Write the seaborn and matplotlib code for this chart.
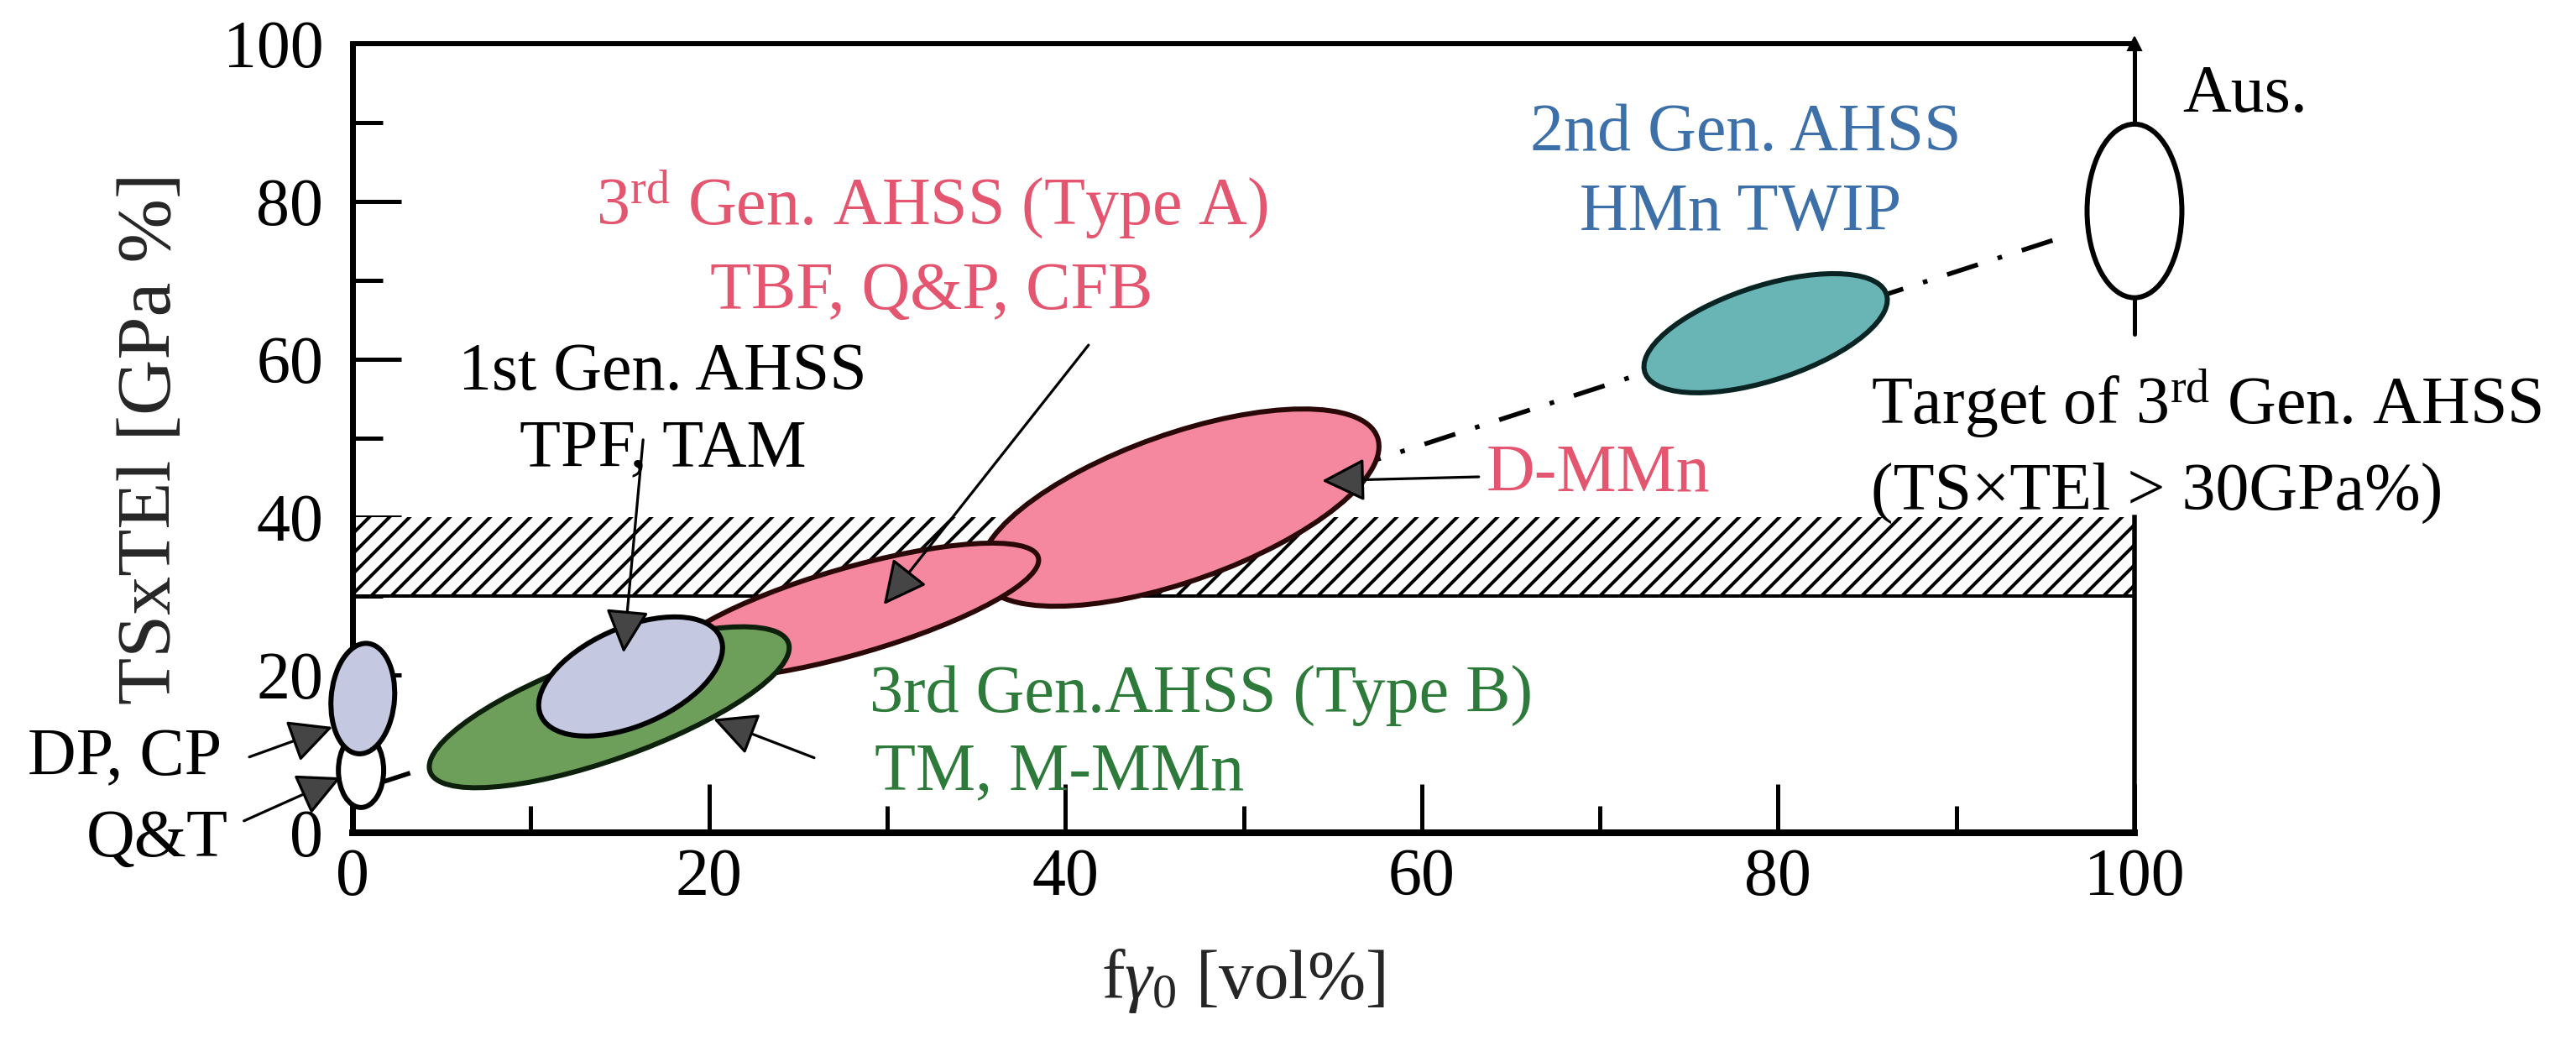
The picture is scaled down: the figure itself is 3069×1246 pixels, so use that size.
import numpy as np
import matplotlib
matplotlib.use("Agg")
import matplotlib.pyplot as plt
from matplotlib.patches import Ellipse
import seaborn as sns

# ---------------- data ----------------
x_ticks = [0, 20, 40, 60, 80, 100]
y_ticks = [0, 20, 40, 60, 80, 100]
x_minor = [10, 30, 50, 70, 90]
y_minor = [10, 30, 50, 70, 90]

# target band (TS x TEl between 30 and 40 GPa%)
band_x = [0, 100]
band_low = 30
band_high = 40

# trend (dash-dot) line end points
trend_x = [1.5, 96.0]
trend_y = [6.3, 75.5]

# steel regions: centre x, centre y, half-extent x, half-extent y, tilt correlation
regions = ["Q&T", "DP, CP", "D-MMn", "Type A", "Type B", "1st Gen", "TWIP", "Aus"]
reg_cx = [0.47, 0.57, 46.4, 28.0, 14.4, 15.6, 79.3, 100.0]
reg_cy = [7.9, 17.0, 41.2, 28.1, 15.9, 19.8, 63.3, 78.8]
reg_hx = [1.27, 1.79, 11.2, 10.5, 10.1, 5.16, 6.83, 2.66]
reg_hy = [4.7, 7.0, 12.5, 8.6, 10.2, 7.55, 7.55, 11.0]
reg_rho = [0.0, 0.1, 0.62, 0.75, 0.74, 0.48, 0.56, 0.0]
reg_face = ["white", "#c4c8e0", "#f5889f", "#f5889f", "#6e9f5a", "#c4c8e0", "#69b4b4", "white"]
reg_edge = ["black", "black", "#2a0808", "#2a0808", "#0c200c", "black", "#0a2424", "black"]

# austenite whisker
aus_whisker = [63.2, 100.0]

# annotation texts
ann_text = ["Aus.", "2nd Gen. AHSS", "HMn TWIP",
            r"3$^{\rm rd}$ Gen. AHSS (Type A)", "TBF, Q&P, CFB",
            "1st Gen. AHSS", "TPF, TAM", "D-MMn",
            r"Target of 3$^{\rm rd}$ Gen. AHSS", "(TS×TEl > 30GPa%)",
            "3rd Gen.AHSS (Type B)", "TM, M-MMn", "DP, CP", "Q&T"]
ann_x = [102.7, 78.2, 77.9, 32.5, 32.5, 17.4, 17.4, 63.6, 85.2, 85.2, 29.0, 29.3, -7.35, -7.0]
ann_y = [93.4, 88.6, 78.5, 79.5, 68.5, 58.2, 48.5, 45.4, 54.3, 43.0, 17.3, 7.55, 9.4, -0.85]
ann_ha = ["left", "center", "center", "center", "center", "center", "center", "left",
          "left", "left", "left", "left", "right", "right"]
ann_color = ["black", "#3d6fa8", "#3d6fa8", "#e4566f", "#e4566f", "black", "black", "#e4566f",
             "black", "black", "#2d7a3a", "#2d7a3a", "black", "black"]

# arrows: tail -> tip
arr_tail_x = [-5.8, -6.1, 16.3, 41.3, 25.9, 63.2]
arr_tail_y = [9.6, 1.5, 49.8, 61.8, 9.5, 45.1]
arr_tip_x = [-1.13, -0.66, 15.2, 29.8, 20.25, 54.4]
arr_tip_y = [13.4, 7.0, 22.8, 28.9, 14.4, 44.6]

x_label = r"f$\gamma_0$ [vol%]"
y_label = "TSxTEl [GPa %]"

# ---------------- style ----------------
DPI = 144
W_PX, H_PX = 3069, 1246


def pt(px):
    """pixel size -> points at the output dpi"""
    return px * 72.0 / DPI


sns.set_theme(style="white")
plt.rcParams["font.family"] = ["Liberation Serif", "DejaVu Serif"]
plt.rcParams["mathtext.fontset"] = "custom"
plt.rcParams["mathtext.rm"] = "Liberation Serif"
plt.rcParams["mathtext.it"] = "Liberation Serif:italic"
plt.rcParams["mathtext.fallback"] = "stix"
plt.rcParams["hatch.linewidth"] = pt(4.0)

FS = pt(80)

fig = plt.figure(figsize=(W_PX / DPI, H_PX / DPI), dpi=DPI)
ax = fig.add_axes([0.1369, 0.2039, 0.6917, 0.7544])
ax.set_xlim(0, 100)
ax.set_ylim(0, 100)

# spines
for s in ["left", "bottom", "top", "right"]:
    ax.spines[s].set_visible(True)
    ax.spines[s].set_color("black")
    ax.spines[s].set_linewidth(pt(7))
ax.spines["bottom"].set_linewidth(pt(8))
ax.spines["top"].set_linewidth(pt(6))
ax.spines["right"].set_bounds(0, band_high)
ax.spines["right"].set_linewidth(pt(5.5))

# hatched target band
ax.fill_between(band_x, band_low, band_high, facecolor="white", edgecolor="black",
                hatch="//", linewidth=0, zorder=1)
ax.plot(band_x, [band_low, band_low], color="black", lw=pt(4), zorder=1.2)

# trend line
sns.lineplot(x=trend_x, y=trend_y, ax=ax, color="black", lw=pt(5.5),
             linestyle=(0, (7, 4.5, 1, 4.5)), zorder=1.5)

# austenite whisker
ax.plot([100, 100], aus_whisker, color="black", lw=pt(5), zorder=2.9, clip_on=False)
ax.plot([100], [aus_whisker[1]], marker="^", ms=pt(16), color="black", zorder=2.9,
        clip_on=False)

# ellipses
for i in range(len(regions)):
    hx, hy, r = reg_hx[i], reg_hy[i], reg_rho[i]
    cov = np.array([[hx * hx, r * hx * hy], [r * hx * hy, hy * hy]])
    vals, vecs = np.linalg.eigh(cov)
    w = 2 * np.sqrt(vals[1])
    h = 2 * np.sqrt(vals[0])
    ang = np.degrees(np.arctan2(vecs[1, 1], vecs[0, 1]))
    e = Ellipse((reg_cx[i], reg_cy[i]), w, h, angle=ang, facecolor=reg_face[i],
                edgecolor=reg_edge[i], linewidth=pt(6), zorder=3 + i * 0.01, clip_on=False)
    ax.add_patch(e)

# arrows
for i in range(len(arr_tail_x)):
    ax.annotate("", xy=(arr_tip_x[i], arr_tip_y[i]), xytext=(arr_tail_x[i], arr_tail_y[i]),
                xycoords="data", textcoords="data", annotation_clip=False,
                arrowprops=dict(arrowstyle="-|>,head_length=0.8,head_width=0.4",
                                mutation_scale=pt(56), lw=pt(3.2), fc="#454545", ec="black",
                                shrinkA=0, shrinkB=0),
                zorder=4)

# texts
for i in range(len(ann_text)):
    ax.text(ann_x[i], ann_y[i], ann_text[i], ha=ann_ha[i], va="center", fontsize=FS,
            color=ann_color[i], zorder=5, clip_on=False)

# ticks
ax.set_xticks(x_ticks)
ax.set_yticks(y_ticks)
ax.set_xticks(x_minor, minor=True)
ax.set_yticks(y_minor, minor=True)
ax.set_xticklabels([str(v) for v in x_ticks])
ax.set_yticklabels([str(v) for v in y_ticks])
ax.tick_params(axis="both", which="both", direction="in", colors="black",
               bottom=True, left=True, top=False, right=False)
ax.tick_params(axis="x", which="major", length=pt(58), width=pt(5), labelsize=FS, pad=pt(18))
ax.tick_params(axis="y", which="major", length=pt(58), width=pt(5), labelsize=FS, pad=pt(35))
ax.tick_params(axis="x", which="minor", length=pt(32), width=pt(5))
ax.tick_params(axis="y", which="minor", length=pt(36), width=pt(5))

ax.set_xlabel(x_label, fontsize=pt(83))
ax.xaxis.set_label_coords(0.5, -0.145)
ax.set_ylabel(y_label, fontsize=pt(92))
ax.yaxis.set_label_coords(-0.1126, 0.5)
ax.yaxis.label.set_verticalalignment("center")

fig.savefig("out.png", dpi=DPI, facecolor="white")
